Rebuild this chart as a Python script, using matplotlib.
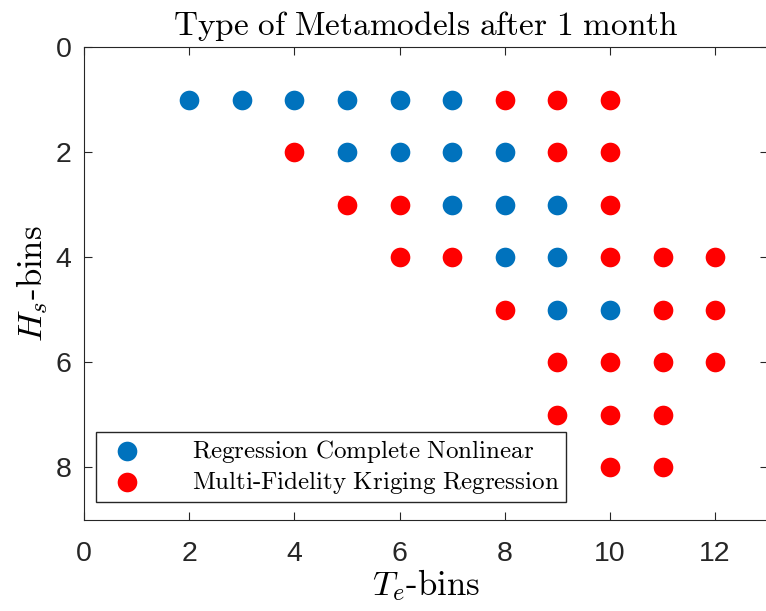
#!/usr/bin/env python3

import matplotlib
matplotlib.use('Agg')
import matplotlib.pyplot as plt

# Regression Complete Nonlinear (blue)
rcn_te = [2, 3, 4, 5, 6, 7, 5, 6, 7, 8, 7, 8, 9, 8, 9, 9, 10]
rcn_hs = [1, 1, 1, 1, 1, 1, 2, 2, 2, 2, 3, 3, 3, 4, 4, 5, 5]

# Multi-Fidelity Kriging Regression (red)
mfk_te = [8, 9, 10, 4, 9, 10, 5, 6, 10, 6, 7, 10, 11, 12,
          8, 11, 12, 9, 10, 11, 12, 9, 10, 11, 10, 11]
mfk_hs = [1, 1, 1, 2, 2, 2, 3, 3, 3, 4, 4, 4, 4, 4,
          5, 5, 5, 6, 6, 6, 6, 7, 7, 7, 8, 8]

xticks = [0, 2, 4, 6, 8, 10, 12]
yticks = [0, 2, 4, 6, 8]

plt.rcParams['mathtext.fontset'] = 'cm'
plt.rcParams['font.family'] = ['Liberation Sans', 'DejaVu Sans']

fig = plt.figure(figsize=(7.66, 6.11), dpi=100)
ax = fig.add_axes([0.1097, 0.149, 0.8925, 0.774])

ax.scatter(rcn_te, rcn_hs, s=200, color='#0072BD', linewidths=0,
           label=r'$\mathrm{Regression\ Complete\ Nonlinear}$')
ax.scatter(mfk_te, mfk_hs, s=200, color='#FF0000', linewidths=0,
           label=r'$\mathrm{Multi\text{-}Fidelity\ Kriging\ Regression}$')

ax.set_xlim(0, 13)
ax.set_ylim(9, 0)
ax.set_xticks(xticks)
ax.set_yticks(yticks)
ax.tick_params(direction='in', top=True, right=True, length=6,
               labelsize=20.5, colors='#262626')
ax.tick_params(axis='x', pad=15)
ax.tick_params(axis='y', pad=9)
for sp in ax.spines.values():
    sp.set_color('#262626')

ax.set_title(r'$\mathrm{Type\ of\ Metamodels\ after\ 1\ month}$', fontsize=24, pad=9)
ax.set_xlabel(r'$T_e\mathrm{\text{-}bins}$', fontsize=25, labelpad=0)
ax.set_ylabel(r'$H_s\mathrm{\text{-}bins}$', fontsize=25, labelpad=4)

leg = ax.legend(loc='lower left', fontsize=18, frameon=True, fancybox=False,
                edgecolor='#262626', framealpha=1, borderpad=0.25,
                handletextpad=1.6, labelspacing=0.15, borderaxespad=0,
                bbox_to_anchor=(12 / 683, 18 / 473))
leg.get_frame().set_linewidth(1.0)

plt.savefig('out.png', dpi=100)
